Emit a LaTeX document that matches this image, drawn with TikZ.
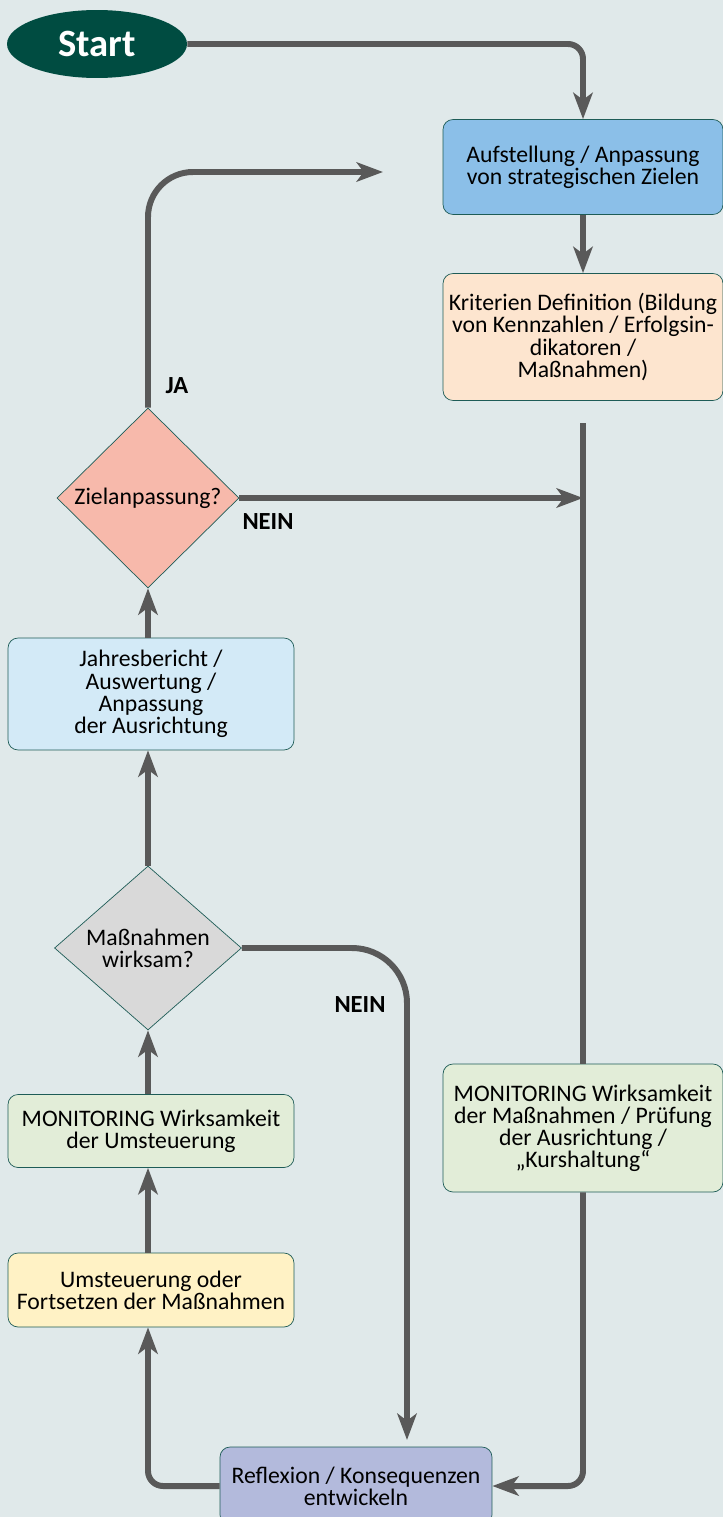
\documentclass[tikz,border=0pt]{standalone}
\usepackage{fontspec}
\setmainfont{Carlito}
\usetikzlibrary{arrows.meta,positioning,shapes.geometric}
\definecolor{bgteal}{HTML}{E0E9EA}
\definecolor{flowgray}{HTML}{595959}
\definecolor{edgeteal}{HTML}{1E5C57}
\definecolor{startgreen}{HTML}{004C41}
\definecolor{zielblue}{HTML}{8BBFE8}
\definecolor{kritpeach}{HTML}{FDE5CF}
\definecolor{askred}{HTML}{F7B9AB}
\definecolor{jahrblue}{HTML}{D3EAF7}
\definecolor{askgray}{HTML}{D9D9D9}
\definecolor{mongreen}{HTML}{E2EDD8}
\definecolor{umstyellow}{HTML}{FFF2C5}
\definecolor{refllilac}{HTML}{B3BADC}

\begin{document}
\begin{tikzpicture}[
  x=0.02cm, y=-0.02cm,
  every node/.style={font=\fontsize{13.5}{12.6}\selectfont},
  stepbox/.style={draw=edgeteal, rounded corners=0.2cm, align=center,
    inner sep=2pt},
  wide/.style={stepbox, minimum width=5.6cm},
  narrow/.style={stepbox, minimum width=5.72cm},
  ask/.style={diamond, draw=edgeteal, align=center, inner sep=0pt,
    inner xsep=-6pt},
  flow/.style={draw=flowgray, line width=3.4pt,
    -{Stealth[length=15pt,width=11pt,inset=4pt]}},
  answer/.style={font=\fontsize{14}{15}\selectfont\bfseries}
]

% --- Hintergrund ---
\fill[bgteal] (0,0) rectangle (723,1517);
\useasboundingbox (0,0) rectangle (723,1517);

% --- Knoten ---

% Start
\node[ellipse, fill=startgreen, text=white, minimum width=3.6cm,
  minimum height=1.36cm, font=\fontsize{22}{22}\selectfont\bfseries]
  (start) at (97,44) {Start};

% rechte Spalte
\node[wide, fill=zielblue, minimum height=1.9cm] (ziele) at (583,167)
  {Aufstellung / Anpassung\\von strategischen Zielen};
\node[wide, fill=kritpeach, minimum height=2.54cm] (krit) at (583,337)
  {Kriterien Definition (Bildung\\von Kennzahlen / Erfolgsin-\\dikatoren /\\Maßnahmen)};
\node[wide, fill=mongreen, minimum height=2.56cm] (monkurs) at (583,1128)
  {MONITORING Wirksamkeit\\der Maßnahmen / Prüfung\\der Ausrichtung /\\„Kurshaltung“};

% linke Spalte
\node[ask, fill=askred, minimum width=3.64cm, minimum height=3.6cm]
  (anpass) at (148,498) {Zielanpassung?};
\node[narrow, fill=jahrblue, minimum height=2.24cm] (jahr) at (151,694)
  {Jahresbericht /\\Auswertung /\\Anpassung\\der Ausrichtung};
\node[ask, fill=askgray, minimum width=3.74cm, minimum height=3.28cm]
  (wirksam) at (148,948) {Maßnahmen\\wirksam?};
\node[narrow, fill=mongreen, minimum height=1.46cm] (monum) at (151,1131)
  {MONITORING Wirksamkeit\\der Umsteuerung};
\node[narrow, fill=umstyellow, minimum height=1.48cm] (umst) at (151,1290)
  {Umsteuerung oder\\Fortsetzen der Maßnahmen};

% unten
\node[stepbox, fill=refllilac, minimum width=5.44cm, minimum height=1.56cm]
  (refl) at (356,1486) {Reflexion / Konsequenzen\\entwickeln};

% freie Enden
\coordinate (kursoben) at (583,423);
\coordinate (jaende) at (383,172);
\coordinate (neinende) at (407,1440);

% --- Verbindungen ---
\draw[flow, rounded corners=0.3cm] (start.east) -| (ziele.north);
\draw[flow] (ziele.south) -- (krit.north);
\draw[draw=flowgray, line width=3.4pt] (kursoben) -- (monkurs.north);
\draw[flow, rounded corners=0.3cm] (monkurs.south) |- (refl.east);

\draw[flow, rounded corners=0.9cm] (anpass.north) |- (jaende);
\draw[flow] (anpass.east) -- (anpass.east -| kursoben);
\draw[flow] (jahr.north -| anpass.south) -- (anpass.south);
\draw[flow] (wirksam.north) -- (wirksam.north |- jahr.south);
\draw[flow, rounded corners=1.1cm] (wirksam.east) -| (neinende);
\draw[flow] (monum.north -| wirksam.south) -- (wirksam.south);
\draw[flow] (umst.north -| wirksam.south) -- (monum.south -| wirksam.south);
\draw[flow, rounded corners=0.3cm] (refl.west) -| (umst.south -| wirksam.south);

% Beschriftungen
\node[answer] (ja) at (177,386) {JA};
\node[answer] (nein1) at (268,522) {NEIN};
\node[answer] (nein2) at (360,1005) {NEIN};

\end{tikzpicture}
\end{document}
